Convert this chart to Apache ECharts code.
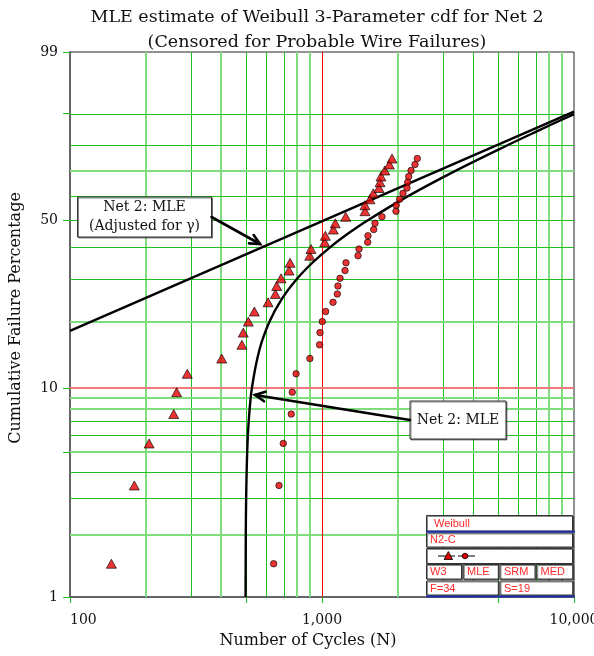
<!DOCTYPE html>
<html>
<head>
<meta charset="utf-8">
<script src="https://cdn.jsdelivr.net/npm/echarts@6/dist/echarts.min.js"></script>
<style>
  html, body { margin: 0; padding: 0; background: #fff; }
  #chart { width: 594px; height: 656px; }
</style>
</head>
<body>
<div id="chart"></div>
<script>
// Net 2 failure times in cycles, shifted by the location parameter (t - gamma)
const cyclesAdjusted = [146, 180, 206, 258, 265, 292, 400, 481, 487, 510, 539, 611, 653, 661, 688, 740, 747,
  894, 904, 1025, 1031, 1109, 1129, 1242, 1481, 1481, 1550, 1598, 1683, 1699, 1714, 1774, 1850, 1896];
// Net 2 failure times in cycles, as observed
const cyclesRaw = [643, 675, 702, 755, 762, 789, 895, 978, 982, 1003, 1034, 1106, 1150, 1157, 1179, 1234, 1245,
  1390, 1402, 1518, 1522, 1604, 1623, 1730, 1966, 1971, 2033, 2096, 2174, 2188, 2208, 2256, 2339, 2389];
// Median-rank plotting positions (%) shared by both point sets
const rankPct = [1.45, 3.46, 5.49, 7.56, 9.56, 11.63, 13.65, 15.74, 17.83, 19.93, 22.04, 24.13, 26.15, 28.22,
  30.34, 32.59, 34.98, 37.27, 39.52, 41.88, 44.19, 46.52, 48.88, 51.46, 53.65, 56.07, 58.48, 60.95, 63.14,
  65.54, 67.89, 70.33, 72.74, 75.11];

// MLE fit plotted against t - gamma (straight on Weibull paper)
const adjLineCycles = [100, 10000];
const adjLinePct = [18.15, 90.5];

// MLE fit plotted against t (bends toward gamma)
const mleCurveCycles = [497.4, 498.4, 500, 504.8, 512, 527, 565, 620, 694, 791, 916, 1073, 1269, 1515, 2213, 3355, 5413, 7182, 10000];
const mleCurvePct = [1, 2, 3, 5, 7, 10, 15, 20, 25, 30, 35, 40, 45, 50, 60, 70, 80, 85, 89.9];

// Axis ticks and labels
const xLabelCycles = [100, 1000, 10000];
const xTickCycles = [100, 500, 1000, 5000, 10000];
const yLabelPct = [1, 10, 50, 99];
const yTickPct = [1, 5, 10, 50, 90, 99];

// Probability-paper grid
const xGridCycles = [200, 300, 400, 500, 600, 700, 800, 900, 2000, 3000, 4000, 5000, 6000, 7000, 8000, 9000];
const yGridPct = [2, 3, 4, 5, 6, 7, 8, 9, 20, 30, 40, 50, 60, 70, 80, 90];
const xRedCycles = [1000];
const yRedPct = [10];

// Axis transforms: log10 for cycles, Weibull linearisation for percentages
const lg = v => Math.log10(v);
const wb = p => Math.log(-Math.log(1 - p / 100));
const unwb = w => 100 * (1 - Math.exp(-Math.exp(w)));

const SERIF = '"DejaVu Serif", "Liberation Serif", serif';
const SANS = '"Liberation Sans", Arial, sans-serif';

const lightX = new Set([200, 400, 800, 900, 2000, 8000, 9000]);
const lightY = new Set([2, 5, 8, 9, 20, 70]);
const GREEN = '#1fbf1f', LIGHTGREEN = '#7fdc7f';

const gridLines = [];
xGridCycles.forEach(c => gridLines.push({ xAxis: lg(c), lineStyle: lightX.has(c)
  ? { color: LIGHTGREEN, width: 2, type: 'solid' } : { color: GREEN, width: 1, type: 'solid' } }));
yGridPct.forEach(p => gridLines.push({ yAxis: wb(p), lineStyle: lightY.has(p)
  ? { color: LIGHTGREEN, width: 2, type: 'solid' } : { color: GREEN, width: 1, type: 'solid' } }));
xRedCycles.forEach(c => gridLines.push({ xAxis: lg(c), lineStyle: { color: '#ff0000', width: 1, type: 'solid' } }));
yRedPct.forEach(p => gridLines.push({ yAxis: wb(p), lineStyle: { color: '#f27a7a', width: 2, type: 'solid' } }));

const fmtCycles = v => Math.round(Math.pow(10, v)).toLocaleString('en-US');

// Arrow helper: shaft plus open V head
function arrow(x1, y1, x2, y2) {
  const dx = x2 - x1, dy = y2 - y1, len = Math.hypot(dx, dy);
  const ux = dx / len, uy = dy / len, L = 11, a = 0.45;
  const ca = Math.cos(a), sa = Math.sin(a);
  const h1 = [x2 - L * (ux * ca - uy * sa), y2 - L * (uy * ca + ux * sa)];
  const h2 = [x2 - L * (ux * ca + uy * sa), y2 - L * (uy * ca - ux * sa)];
  const st = { stroke: '#000', lineWidth: 2.6, fill: null, lineCap: 'round', lineJoin: 'miter' };
  return [
    { type: 'line', shape: { x1, y1, x2, y2 }, style: st, z: 20 },
    { type: 'polyline', shape: { points: [h1, [x2, y2], h2] }, style: st, z: 20 }
  ];
}

function box(x, y, w, h, z) {
  return { type: 'rect', shape: { x, y, width: w, height: h },
    style: { fill: '#fff', stroke: '#333', lineWidth: 1, shadowColor: 'rgba(0,0,0,0.45)', shadowOffsetX: 1, shadowOffsetY: 1 }, z: z || 20 };
}
function redText(x, y, t) {
  return { type: 'text', x, y, style: { text: t, fill: '#ff2a2a', font: '11px ' + SANS, textVerticalAlign: 'middle' }, z: 22 };
}

const graphics = [];
// Annotation boxes
graphics.push(box(77.5, 197, 134, 40));
graphics.push({ type: 'text', x: 144.5, y: 217, z: 22,
  style: { text: 'Net 2: MLE\n(Adjusted for γ)', align: 'center', verticalAlign: 'middle', lineHeight: 19, fill: '#111', font: '14px ' + SERIF } });
graphics.push(...arrow(211.5, 217, 260, 244));
graphics.push(box(410, 401, 96, 38));
graphics.push({ type: 'text', x: 458, y: 420, z: 22,
  style: { text: 'Net 2: MLE', align: 'center', verticalAlign: 'middle', fill: '#111', font: '14px ' + SERIF } });
graphics.push(...arrow(410, 420, 255, 395));

// Plot information block
graphics.push(box(426.5, 515.5, 146, 15.5, 18));
graphics.push(redText(434, 523.5, 'Weibull'));
graphics.push(box(426.5, 533, 146, 14, 18));
graphics.push(redText(430, 540, 'N2-C'));
graphics.push(box(426.5, 548.5, 146, 15, 18));
graphics.push({ type: 'line', shape: { x1: 438, y1: 556, x2: 455, y2: 556 }, style: { stroke: '#000', lineWidth: 1 }, z: 21 });
graphics.push({ type: 'polygon', shape: { points: [[448.3, 551.5], [444, 559.5], [452.6, 559.5]] }, style: { fill: '#e00000', stroke: '#000', lineWidth: 0.8 }, z: 22 });
graphics.push({ type: 'line', shape: { x1: 458, y1: 556, x2: 475, y2: 556 }, style: { stroke: '#000', lineWidth: 1 }, z: 21 });
graphics.push({ type: 'circle', shape: { cx: 465, cy: 556, r: 2.8 }, style: { fill: '#e00000', stroke: '#000', lineWidth: 0.8 }, z: 22 });
[[426.5, 35], [463.3, 35], [500, 35], [536.7, 36]].forEach(([x, w]) => graphics.push(box(x, 564.5, w, 14.5, 18)));
graphics.push(redText(430, 572, 'W3'));
graphics.push(redText(467, 572, 'MLE'));
graphics.push(redText(504, 572, 'SRM'));
graphics.push(redText(540.5, 572, 'MED'));
graphics.push(box(426.5, 581, 71.8, 14, 18));
graphics.push(box(500, 581, 72.7, 14, 18));
graphics.push(redText(430, 588.5, 'F=34'));
graphics.push(redText(504, 588.5, 'S=19'));
graphics.push({ type: 'line', shape: { x1: 426, y1: 531.8, x2: 575, y2: 531.8 }, style: { stroke: '#1d2fa8', lineWidth: 2 }, z: 23 });
graphics.push({ type: 'line', shape: { x1: 426, y1: 596.5, x2: 575, y2: 596.5 }, style: { stroke: '#1d2fa8', lineWidth: 2 }, z: 23 });

const chart = echarts.init(document.getElementById('chart'), null, { renderer: 'canvas' });
chart.setOption({
  animation: false,
  backgroundColor: '#fff',
  title: {
    text: 'MLE estimate of Weibull 3-Parameter cdf for Net 2\n(Censored for Probable Wire Failures)',
    left: 312, top: 0, textAlign: 'center',
    textStyle: { fontFamily: SERIF, fontSize: 17.5, fontWeight: 'normal', color: '#111', lineHeight: 25 }
  },
  grid: { left: 70, right: 20, top: 52, bottom: 59, containLabel: false, outerBoundsMode: 'none',
    show: true, borderColor: '#222', borderWidth: 1, backgroundColor: 'transparent' },
  xAxis: {
    type: 'value', min: 2, max: 4,
    name: 'Number of Cycles (N)', nameLocation: 'middle', nameGap: 36,
    nameTextStyle: { fontFamily: SERIF, fontSize: 16, color: '#111', padding: [0, 28, 0, 0] },
    axisLine: { show: true, onZero: false, lineStyle: { color: '#555', width: 1.5 } },
    axisTick: { show: true, length: 6, customValues: xTickCycles.map(lg), lineStyle: { color: GREEN } },
    axisLabel: { customValues: xLabelCycles.map(lg), formatter: fmtCycles, margin: 16, alignMinLabel: 'left',
      fontFamily: SERIF, fontSize: 14, color: '#111' },
    splitLine: { show: false }
  },
  yAxis: {
    type: 'value', min: wb(1), max: wb(99),
    name: 'Cumulative Failure Percentage', nameLocation: 'middle', nameGap: 46,
    nameTextStyle: { fontFamily: SERIF, fontSize: 16, color: '#111', padding: [0, 0, 0, 13] },
    axisLine: { show: true, onZero: false, lineStyle: { color: '#666', width: 2 } },
    axisTick: { show: true, length: 7, customValues: yTickPct.map(wb), lineStyle: { color: GREEN } },
    axisLabel: { customValues: yLabelPct.map(wb), formatter: v => String(Math.round(unwb(v))), margin: 12,
      fontFamily: SERIF, fontSize: 14, color: '#111' },
    splitLine: { show: false }
  },
  series: [
    {
      name: 'grid', type: 'line', data: [], z: 1, silent: true,
      markLine: { silent: true, symbol: ['none', 'none'], label: { show: false }, animation: false, data: gridLines }
    },
    {
      name: 'MLE adjusted', type: 'line', z: 5, showSymbol: false, silent: true,
      data: adjLineCycles.map((c, i) => [lg(c), wb(adjLinePct[i])]),
      lineStyle: { color: '#000', width: 2.4 }
    },
    {
      name: 'MLE', type: 'line', z: 5, showSymbol: false, silent: true, smooth: 0.35,
      data: mleCurveCycles.map((c, i) => [lg(c), wb(mleCurvePct[i])]),
      lineStyle: { color: '#000', width: 2.4 }
    },
    {
      name: 't - gamma', type: 'scatter', z: 6, symbol: 'triangle', symbolSize: [10, 9],
      data: cyclesAdjusted.map((c, i) => [lg(c), wb(rankPct[i])]),
      itemStyle: { color: '#e60000', borderColor: '#000', borderWidth: 0.8 }
    },
    {
      name: 't', type: 'scatter', z: 6, symbol: 'circle', symbolSize: 6.5,
      data: cyclesRaw.map((c, i) => [lg(c), wb(rankPct[i])]),
      itemStyle: { color: '#e60000', borderColor: '#000', borderWidth: 0.8 }
    }
  ],
  graphic: graphics
});
</script>
</body>
</html>
